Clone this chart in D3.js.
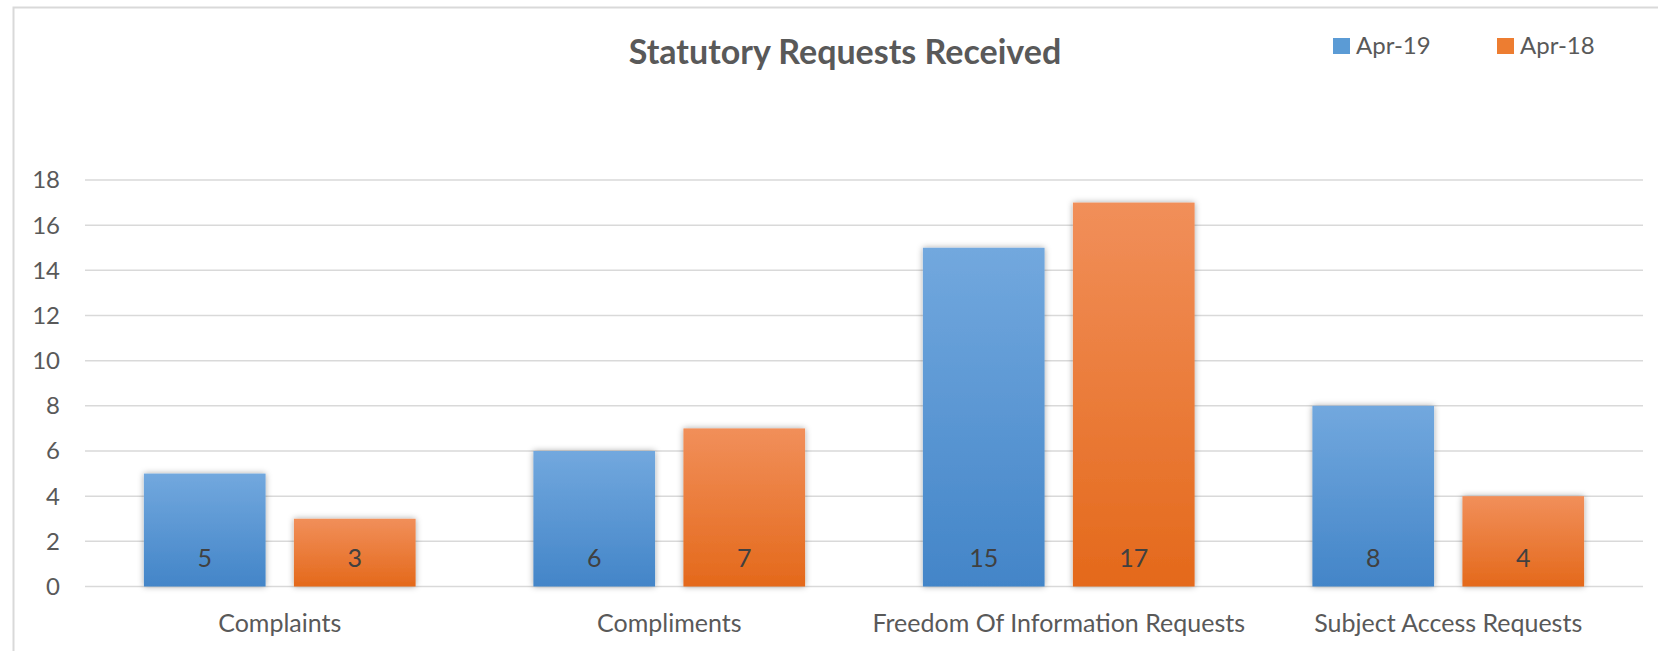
<!DOCTYPE html>
<html>
<head>
<meta charset="utf-8">
<script src="https://cdn.jsdelivr.net/npm/d3@7"></script>
<style>
  html, body { margin: 0; padding: 0; background: #fff; }
  svg { display: block; font-family: Lato, "Open Sans", sans-serif; }
</style>
</head>
<body>
<script>
const categories = ["Complaints", "Compliments", "Freedom Of Information Requests", "Subject Access Requests"]
const seriesNames = ["Apr-19", "Apr-18"]
const apr19 = [5, 6, 15, 8]
const apr18 = [3, 7, 17, 4]
const yTicks = [0, 2, 4, 6, 8, 10, 12, 14, 16, 18]

const width = 1658
const height = 651
const plot = { left: 85, right: 1643, top: 180, bottom: 586.5 }

const data = categories.map((c, i) => ({ cat: c, values: [apr19[i], apr18[i]] }))

const svg = d3.select("body").append("svg")
    .attr("width", width)
    .attr("height", height)

const defs = svg.append("defs")

// degradados de las barras
const grads = [
    { id: "g-blue", top: "#72a8de", bottom: "#4385c8" },
    { id: "g-orange", top: "#f18f5a", bottom: "#e4691b" }
]
grads.forEach(g => {
    const lg = defs.append("linearGradient")
        .attr("id", g.id)
        .attr("x1", 0).attr("y1", 0).attr("x2", 0).attr("y2", 1)
    lg.append("stop").attr("offset", "0%").attr("stop-color", g.top)
    lg.append("stop").attr("offset", "100%").attr("stop-color", g.bottom)
})

defs.append("filter")
    .attr("id", "shadow")
    .attr("x", "-20%").attr("y", "-20%").attr("width", "140%").attr("height", "140%")
    .append("feDropShadow")
    .attr("dx", 0).attr("dy", 0)
    .attr("stdDeviation", 3)
    .attr("flood-color", "#000")
    .attr("flood-opacity", 0.35)

// marco del grafico
svg.append("rect")
    .attr("x", 13.5)
    .attr("y", 7.5)
    .attr("width", width)
    .attr("height", height)
    .attr("fill", "none")
    .attr("stroke", "#d9d9d9")
    .attr("stroke-width", 2)

const y = d3.scaleLinear()
    .domain([0, 18])
    .range([plot.bottom, plot.top])

const x0 = d3.scaleBand()
    .domain(categories)
    .range([plot.left, plot.right])

const pad = 58.9
const x1 = d3.scaleBand()
    .domain(seriesNames)
    .range([pad, x0.bandwidth() - pad])
    .paddingInner(0.189)

const color = d3.scaleOrdinal()
    .domain(seriesNames)
    .range(["url(#g-blue)", "url(#g-orange)"])

const legendColor = d3.scaleOrdinal()
    .domain(seriesNames)
    .range(["#5b9bd5", "#ed7d31"])

// cuadricula
svg.append("g")
    .selectAll("line")
    .data(yTicks)
    .enter()
    .append("line")
    .attr("x1", plot.left)
    .attr("x2", plot.right)
    .attr("y1", d => y(d))
    .attr("y2", d => y(d))
    .attr("stroke", "#d9d9d9")
    .attr("stroke-width", 1.5)

// etiquetas eje y
svg.append("g")
    .selectAll("text")
    .data(yTicks)
    .enter()
    .append("text")
    .attr("x", 60)
    .attr("y", d => y(d))
    .attr("dy", "0.35em")
    .attr("text-anchor", "end")
    .attr("font-size", 24)
    .attr("fill", "#595959")
    .text(d => d)

// barras
const groups = svg.append("g")
    .selectAll("g")
    .data(data)
    .enter()
    .append("g")
    .attr("transform", d => `translate(${x0(d.cat)},0)`)

const bars = groups.selectAll("g")
    .data(d => d.values.map((v, i) => ({ key: seriesNames[i], value: v })))
    .enter()
    .append("g")

bars.append("rect")
    .attr("x", d => x1(d.key))
    .attr("y", d => y(d.value))
    .attr("width", x1.bandwidth())
    .attr("height", d => y(0) - y(d.value))
    .attr("fill", d => color(d.key))
    .attr("filter", "url(#shadow)")

bars.append("text")
    .attr("x", d => x1(d.key) + x1.bandwidth() / 2)
    .attr("y", 566.5)
    .attr("text-anchor", "middle")
    .attr("font-size", 25)
    .attr("fill", "#404040")
    .text(d => d.value)

// etiquetas de categoria
svg.append("g")
    .selectAll("text")
    .data(categories)
    .enter()
    .append("text")
    .attr("x", d => x0(d) + x0.bandwidth() / 2)
    .attr("y", 631.5)
    .attr("text-anchor", "middle")
    .attr("font-size", 25)
    .attr("fill", "#595959")
    .text(d => d)

// titulo
svg.append("text")
    .attr("x", 845)
    .attr("y", 63.5)
    .attr("text-anchor", "middle")
    .attr("font-size", 34)
    .attr("font-weight", 700)
    .attr("fill", "#595959")
    .text("Statutory Requests Received")

// leyenda
const legendX = [1333, 1497]
const legend = svg.append("g")
    .selectAll("g")
    .data(seriesNames)
    .enter()
    .append("g")
    .attr("transform", (d, i) => `translate(${legendX[i]},38)`)

legend.append("rect")
    .attr("width", 17)
    .attr("height", 16)
    .attr("fill", d => legendColor(d))

legend.append("text")
    .attr("x", 23)
    .attr("y", 16)
    .attr("font-size", 24)
    .attr("fill", "#595959")
    .text(d => d)
</script>
</body>
</html>
